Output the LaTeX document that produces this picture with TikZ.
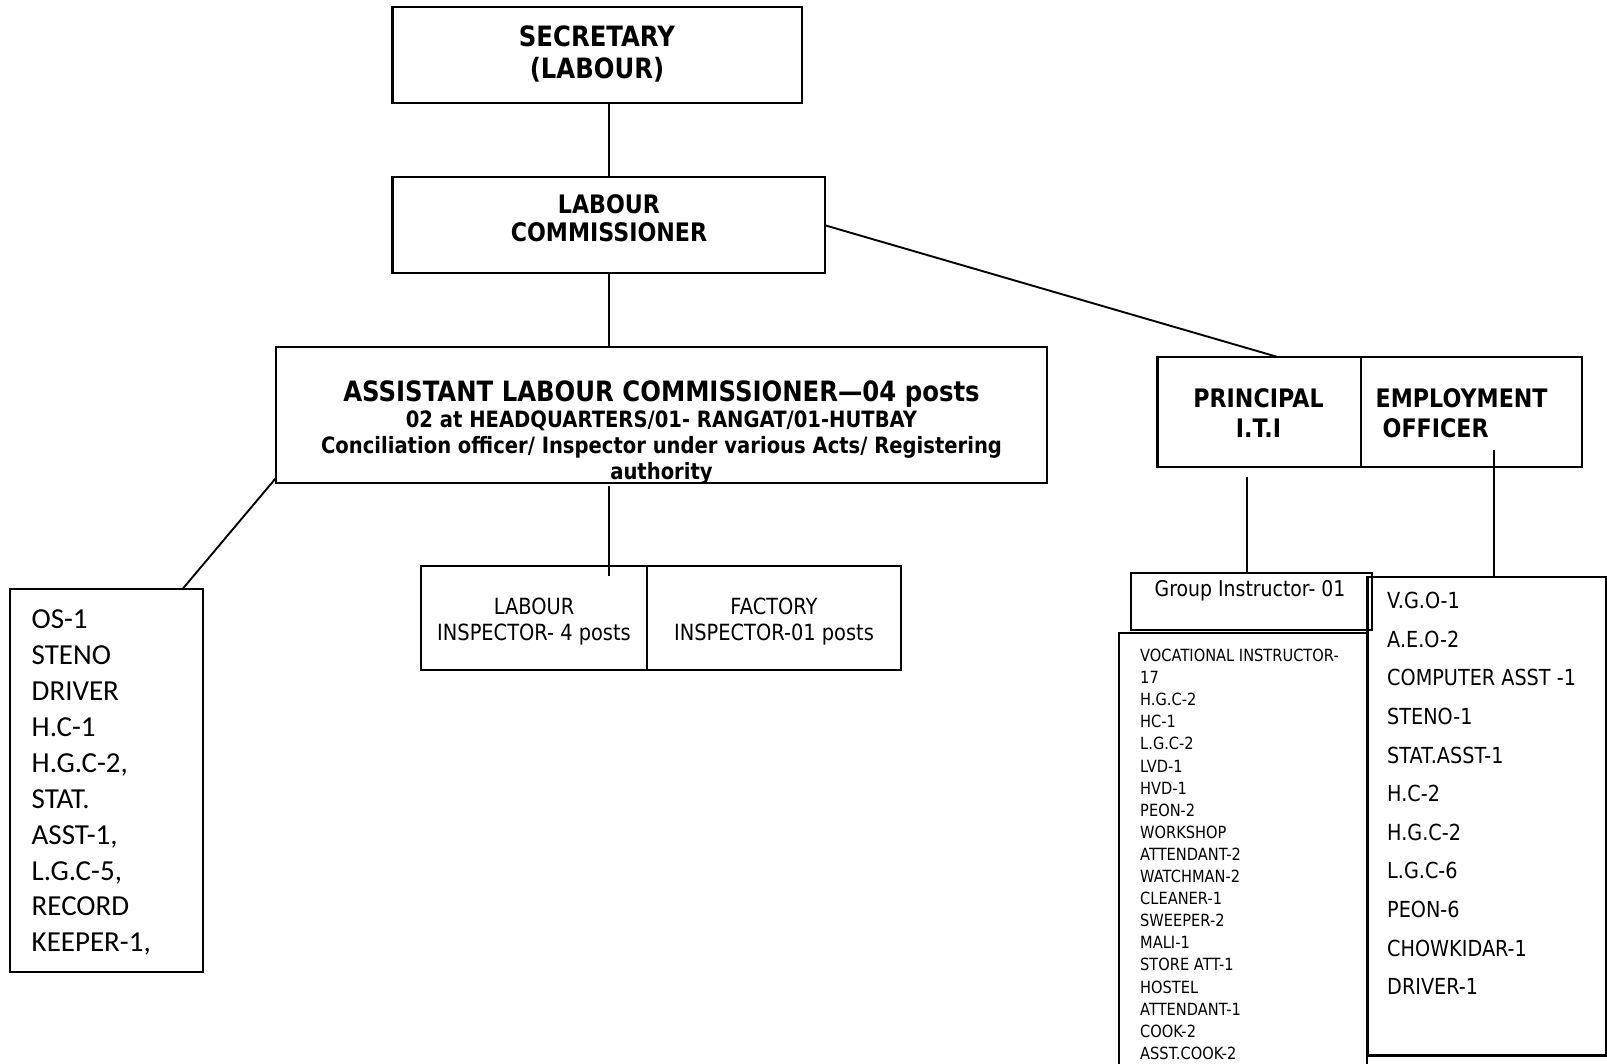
\documentclass[tikz,border=0pt]{standalone}
\usepackage{fontspec}
\newfontfamily\tahfont{DejaVu Sans}[FakeStretch=0.87]
\newfontfamily\calfont{Carlito}
\usetikzlibrary{calc}

\begin{document}
\begin{tikzpicture}[x=1pt,y=-1pt,
    box/.style={draw,line width=2.2pt,inner sep=0pt,outer sep=0pt,anchor=north west},
    conn/.style={line width=1.9pt},
    txt/.style={inner sep=0pt,align=center,anchor=north},
    list/.style={inner sep=0pt,align=left,anchor=north west}]
    \useasboundingbox (0,0) rectangle (1607,1064);

    % caixas
    \node[box,minimum width=409.2pt,minimum height=96pt] (sec) at (392.5,7.3) {};
    \node[box,minimum width=432.5pt,minimum height=96pt] (lc) at (392.5,177.3) {};
    \node[box,minimum width=771pt,minimum height=136pt] (alc) at (275.7,346.7) {};
    \node[box,minimum width=203.5pt,minimum height=110pt] (pri) at (1157.5,356.7) {};
    \node[box,minimum width=221pt,minimum height=110pt] (emp) at (1361,356.7) {};
    \node[box,minimum width=193pt,minimum height=382.4pt] (os) at (10.3,589.3) {};
    \node[box,minimum width=226pt,minimum height=104pt] (li) at (420.7,566) {};
    \node[box,minimum width=254.3pt,minimum height=104pt] (fi) at (646.7,566) {};
    \node[box,minimum width=241pt,minimum height=57.3pt] (gi) at (1130.7,572.7) {};
    \node[box,minimum width=248pt,minimum height=460pt] (vi) at (1119,632.7) {};
    \node[box,minimum width=238.8pt,minimum height=478.8pt] (vgo) at (1367.5,576.7) {};

    % textos
    \node[txt,font=\tahfont\bfseries\fontsize{28}{32}\selectfont] (secT) at (597,25.8) {SECRETARY\\(LABOUR)};
    \node[txt,font=\tahfont\bfseries\fontsize{25.5}{28}\selectfont] (lcT) at (609,194.7) {LABOUR\\COMMISSIONER};
    \node[txt,font=\tahfont\bfseries\fontsize{22.5}{26}\selectfont] (alcT) at (661.5,380.3)
        {{\fontsize{28}{26}\selectfont ASSISTANT LABOUR COMMISSIONER—04 posts}\\
         02 at HEADQUARTERS/01- RANGAT/01-HUTBAY\\
         Conciliation officer/ Inspector under various Acts/ Registering\\
         authority};
    \node[txt,font=\tahfont\bfseries\fontsize{25.5}{29.5}\selectfont] (priT) at (1258.5,388.7) {PRINCIPAL\\I.T.I};
    \node[list,font=\tahfont\bfseries\fontsize{25.5}{29.5}\selectfont] (empT) at (1375.5,388.7) {EMPLOYMENT\\\hspace*{7pt}OFFICER};
    \node[txt,font=\tahfont\fontsize{22.3}{25.5}\selectfont] (liT) at (534,598) {LABOUR\\INSPECTOR- 4 posts};
    \node[txt,font=\tahfont\fontsize{22.3}{25.5}\selectfont] (fiT) at (774,598) {FACTORY\\INSPECTOR-01 posts};
    \node[txt,font=\tahfont\fontsize{21.7}{25}\selectfont] (giT) at (1250,580) {Group Instructor- 01};
    \node[list,font=\calfont\fontsize{29}{35.9}\selectfont] (osT) at (31.5,609.7)
        {OS-1\\STENO\\DRIVER\\H.C-1\\H.G.C-2,\\STAT.\\ASST-1,\\L.G.C-5,\\RECORD\\KEEPER-1,};
    \node[list,font=\tahfont\fontsize{16.8}{22.1}\selectfont] (viT) at (1140,648.9)
        {VOCATIONAL INSTRUCTOR-\\17\\H.G.C-2\\HC-1\\L.G.C-2\\LVD-1\\HVD-1\\PEON-2\\WORKSHOP\\ATTENDANT-2\\WATCHMAN-2\\CLEANER-1\\SWEEPER-2\\MALI-1\\STORE ATT-1\\HOSTEL\\ATTENDANT-1\\COOK-2\\ASST.COOK-2};
    \node[list,font=\tahfont\fontsize{22.1}{38.6}\selectfont] (vgoT) at (1387,592)
        {V.G.O-1\\A.E.O-2\\COMPUTER ASST -1\\STENO-1\\STAT.ASST-1\\H.C-2\\H.G.C-2\\L.G.C-6\\PEON-6\\CHOWKIDAR-1\\DRIVER-1};

    % ligações
    \draw[conn] (lc.north |- sec.south) -- (lc.north);
    \draw[conn] (lc.south) -- (lc.south |- alc.north);
    \draw[conn] (lc.east) -- ($(pri.north)+(17.4,0)$);
    \draw[conn] ($(alc.south west)+(0,-4.4)$) -- ($(os.north east)+(-21,0)$);
    \coordinate (a1) at ($(alc.south -| lc.south)+(0,3.5)$);
    \draw[conn] (a1) -- ($(a1 |- li.north)+(0,10)$);
    \coordinate (p1) at ($(pri.south)+(-12.5,10)$);
    \draw[conn] (p1) -- (p1 |- gi.north);
    \coordinate (e1) at ($(emp.south)+(22.5,-17)$);
    \draw[conn] (e1) -- (e1 |- vgo.north);
\end{tikzpicture}
\end{document}
